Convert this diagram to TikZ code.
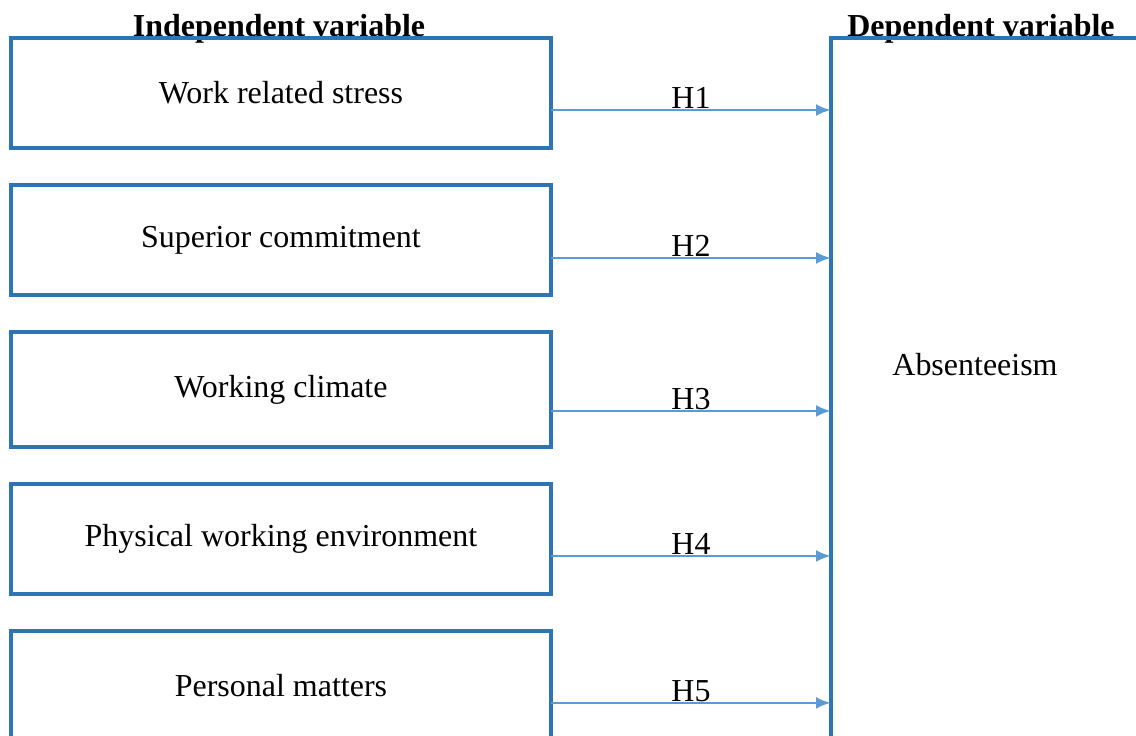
\documentclass[tikz,border=0pt]{standalone}
\usepackage{fontspec}
\setmainfont{Liberation Serif}
\usetikzlibrary{arrows.meta,positioning}
\definecolor{Boxblue}{HTML}{2E75B6}
\definecolor{Arrowblue}{HTML}{5B9BD5}
\tikzset{
every node/.style={font=\fontsize{18.2}{22}\selectfont},
ivbox/.style= {rectangle, draw=Boxblue, line width=0.075cm, inner sep=0pt, outer sep=0pt,
  minimum width=10.8cm, minimum height=2.2cm, align=center},
dvbox/.style= {rectangle, draw=Boxblue, line width=0.075cm, inner sep=0pt, outer sep=0pt,
  minimum width=12cm, minimum height=20cm},
head/.style= {font=\fontsize{18.2}{22}\selectfont\bfseries, anchor=base},
hyparrow/.style= {-{Latex[length=0.3cm,width=0.24cm]}, draw=Arrowblue, fill=Arrowblue, line width=0.055cm},
node distance = 0.74cm
}

\begin{document}
\begin{tikzpicture}[x=0.02cm, y=-0.02cm]
\useasboundingbox (0,0) rectangle (1136,735);

\node [head] (ivhead) at (279,36) {Independent variable};
\node [head] (dvhead) at (981,36) {Dependent variable};

\node [ivbox, anchor=north west] (iv1) at (11,38) {Work related stress};
\node [ivbox, below = of iv1] (iv2) {Superior commitment};
\node [ivbox, below = of iv2, minimum height=2.3cm] (iv3) {Working climate};
\node [ivbox, below = of iv3] (iv4) {Physical working environment};
\node [ivbox, below = of iv4] (iv5) {Personal matters};

\node [dvbox, anchor=north west] (dv) at (831,38) {};
\node (abs) at (975,365) {Absenteeism};

\foreach \i/\off in {1/72,2/73,3/79,4/72,5/72}
  \draw[hyparrow] ([yshift=-\off*0.02cm]iv\i.north east) coordinate (s\i)
    -- (s\i -| dv.west) node[midway, above, inner sep=0pt, text=black] {H\i};
\end{tikzpicture}
\end{document}
